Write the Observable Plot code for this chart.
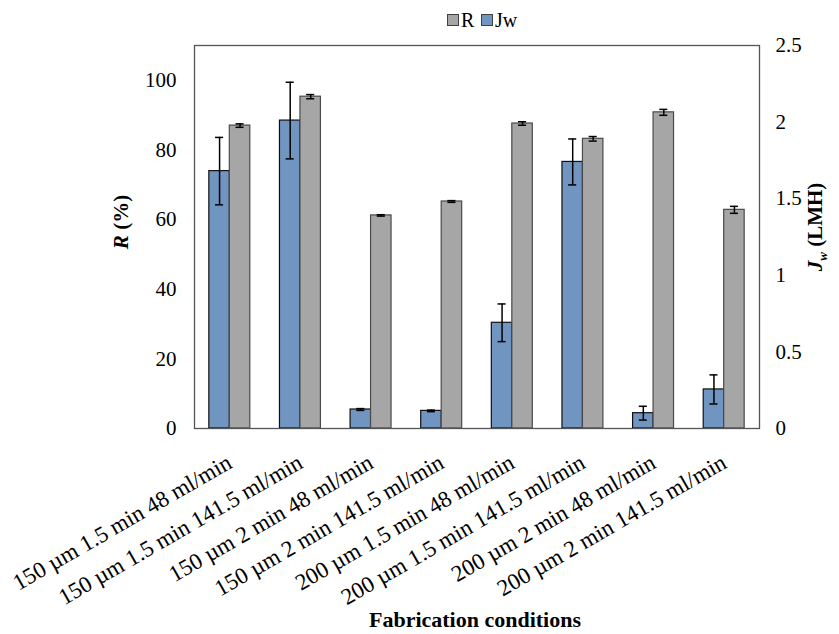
<!DOCTYPE html>
<html>
<head>
<meta charset="utf-8">
<script src="https://cdn.jsdelivr.net/npm/d3@7"></script>
<script src="https://cdn.jsdelivr.net/npm/@observablehq/plot@0.6"></script>
<style>
  html, body { margin: 0; padding: 0; background: #fff; }
  body { width: 839px; height: 634px; overflow: hidden; font-family: "Liberation Serif", "Times New Roman", serif; }
  svg text { font-family: "Liberation Serif", "Times New Roman", serif !important; }
  #legend { height: 25px; position: relative; z-index: 2; font-size: 20px; color: #000; }
  #legend .item { position: absolute; top: 8px; display: flex; align-items: center; line-height: 24px; }
  #legend .sw { width: 10px; height: 10px; border: 1px solid #404040; margin-right: 2px; }
</style>
</head>
<body>
<div id="legend">
  <div class="item" style="left:447px"><span class="sw" style="background:#A6A6A6"></span>R</div>
  <div class="item" style="left:481px"><span class="sw" style="background:#7095C1"></span>Jw</div>
</div>
<div id="chart"></div>
<script>
const conditions = [
  "150 µm 1.5 min 48 ml/min",
  "150 µm 1.5 min 141.5 ml/min",
  "150 µm 2 min 48 ml/min",
  "150 µm 2 min 141.5 ml/min",
  "200 µm 1.5 min 48 ml/min",
  "200 µm 1.5 min 141.5 ml/min",
  "200 µm 2 min 48 ml/min",
  "200 µm 2 min 141.5 ml/min"
];
const R = [87.0, 95.3, 61.2, 65.2, 87.6, 83.2, 90.8, 62.8];
const R_err = [0.5, 0.6, 0.2, 0.25, 0.5, 0.65, 0.85, 1.0];
const Jw = [1.68, 2.01, 0.124, 0.115, 0.69, 1.74, 0.10, 0.255];
const Jw_err = [0.22, 0.25, 0.006, 0.005, 0.123, 0.15, 0.045, 0.095];
const rTicks = [0, 20, 40, 60, 80, 100];
const jwTicks = [0, 0.5, 1, 1.5, 2, 2.5];

const rMax = 110, jwMax = 2.5, k = rMax / jwMax; // Jw mapped onto R scale
const w = 0.29;   // bar width in band units
const cap = 0.057;
const serif = "Liberation Serif";

const rows = [];
conditions.forEach((c, i) => {
  rows.push({i, series: "Jw", v: Jw[i] * k, e: Jw_err[i] * k, x1: i - w, x2: i, xc: i - w / 2});
  rows.push({i, series: "R", v: R[i], e: R_err[i], x1: i, x2: i + w, xc: i + w / 2});
});

const plot = Plot.plot({
  width: 839,
  height: 609,
  marginTop: 20,
  marginBottom: 206,
  marginLeft: 194,
  marginRight: 80,
  style: {fontFamily: serif, fontSize: "21px", color: "#000", background: "transparent"},
  x: {type: "linear", domain: [-0.5, conditions.length - 0.5], axis: null},
  y: {domain: [0, rMax], axis: null},
  color: {domain: ["Jw", "R"], range: ["#7095C1", "#A6A6A6"]},
  marks: [
    Plot.rectY(rows, {x1: "x1", x2: "x2", y1: 0, y2: "v", fill: "series",
      stroke: d => d.series === "Jw" ? "#111" : "#4a4a4a", strokeWidth: 1.2}),
    Plot.ruleX(rows, {x: "xc", y1: d => d.v - d.e, y2: d => d.v + d.e, stroke: "#000", strokeWidth: 1.5}),
    Plot.ruleY(rows, {y: d => d.v - d.e, x1: d => d.xc - cap, x2: d => d.xc + cap, stroke: "#000", strokeWidth: 1.5}),
    Plot.ruleY(rows, {y: d => d.v + d.e, x1: d => d.xc - cap, x2: d => d.xc + cap, stroke: "#000", strokeWidth: 1.5}),
    Plot.frame({stroke: "#555", strokeWidth: 1.3}),
    Plot.axisY({anchor: "left", ticks: rTicks, tickSize: 0, tickPadding: 18, fontSize: 21, fontFamily: serif, label: null}),
    Plot.axisY({anchor: "right", ticks: jwTicks.map(t => t * k), tickFormat: (t, j) => String(jwTicks[j]),
      tickSize: 0, tickPadding: 16, fontSize: 21, fontFamily: serif, label: null}),
    Plot.axisX({anchor: "bottom", ticks: d3.range(conditions.length), tickFormat: i => conditions[i],
      tickSize: 0, tickPadding: 32, tickRotate: -30, fontSize: 23, fontFamily: serif, label: null})
  ]
});
document.getElementById("chart").appendChild(plot);

const svg = d3.select(plot);
const yl = svg.append("text")
  .attr("transform", "translate(128,197) rotate(-90)")
  .attr("text-anchor", "middle")
  .attr("font-family", serif).attr("font-size", 21).attr("font-weight", "bold");
yl.append("tspan").attr("font-style", "italic").text("R");
yl.append("tspan").text(" (%)");

const yr = svg.append("text")
  .attr("transform", "translate(822,202) rotate(-90)")
  .attr("text-anchor", "middle")
  .attr("font-family", serif).attr("font-size", 21).attr("font-weight", "bold");
yr.append("tspan").attr("font-style", "italic").text("J");
yr.append("tspan").attr("font-style", "italic").attr("font-size", 13).attr("dy", 5).text("w");
yr.append("tspan").attr("dy", -5).text(" (LMH)");

svg.append("text")
  .attr("x", 475).attr("y", 602)
  .attr("text-anchor", "middle")
  .attr("font-family", serif).attr("font-size", 22).attr("font-weight", "bold")
  .text("Fabrication conditions");
</script>
</body>
</html>
